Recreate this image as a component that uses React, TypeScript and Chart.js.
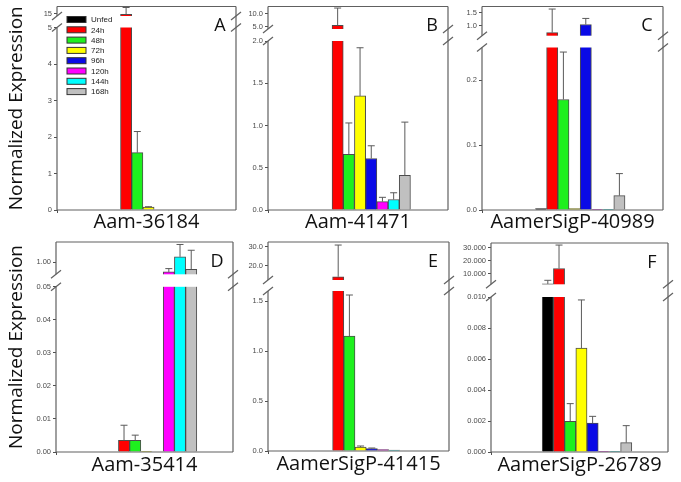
import React, { useEffect, useRef } from 'react';
import { Chart, LinearScale, registerables } from 'chart.js';

Chart.register(...registerables);

// ---------- data ----------
const SERIES = ['Unfed', '24h', '48h', '72h', '96h', '120h', '144h', '168h'];
const SERIES_COLORS = ['#000000', '#ff0000', '#1ef01e', '#ffff00', '#0a0ae6', '#ff00ff', '#00ffff', '#c0c0c0'];
const Y_TITLE = 'Normalized Expression';

const GENE_A = 'Aam-36184';
const VALUES_A = [0, 14.7, 1.57, 0.08, 0, 0, 0, 0];
const ERRORS_A = [0, 3.2, 0.58, 0.01, 0, 0, 0, 0];
const TICKS_A = [0, 1, 2, 3, 4, 5, 15];

const GENE_B = 'Aam-41471';
const VALUES_B = [0, 5.5, 0.66, 1.35, 0.61, 0.1, 0.124, 0.41];
const ERRORS_B = [0, 6.8, 0.37, 0.57, 0.15, 0.05, 0.08, 0.63];
const TICKS_B = [0, 0.5, 1.0, 1.5, 2.0, 5.0, 10.0];

const GENE_C = 'AamerSigP-40989';
const VALUES_C = [0.002, 0.72, 0.17, 0.002, 1.04, 0.001, 0.001, 0.022];
const ERRORS_C = [0, 0.93, 0.073, 0, 0.24, 0, 0, 0.034];
const TICKS_C = [0, 0.1, 0.2, 1.0, 1.5];

const GENE_D = 'Aam-35414';
const VALUES_D = [0, 0.0035, 0.0035, 0.0002, 0, 0.8, 1.118, 0.856];
const ERRORS_D = [0, 0.0046, 0.0016, 0, 0, 0.07, 0.26, 0.4];
const TICKS_D = [0, 0.01, 0.02, 0.03, 0.04, 0.05, 1.0];

const GENE_E = 'AamerSigP-41415';
const VALUES_E = [0, 14.2, 1.15, 0.04, 0.025, 0.015, 0.01, 0.005];
const ERRORS_E = [0, 16.7, 0.41, 0.01, 0.005, 0, 0, 0];
const TICKS_E = [0, 0.5, 1.0, 1.5, 20.0, 30.0];

const GENE_F = 'AamerSigP-26789';
const VALUES_F = [1.9, 13.9, 0.00198, 0.00671, 0.00187, 0.00002, 0.00005, 0.0006];
const ERRORS_F = [2.8, 18.2, 0.00114, 0.0031, 0.00043, 0, 0, 0.0011];
const TICKS_F = [0, 0.002, 0.004, 0.006, 0.008, 0.01, 10, 20, 30];

// ---------- layout ----------
const PAD_R = 6;
const X_H = 28;
const GROUP_POS = 0.585;
const BAR_W = 11.2;
const FRAME_COLOR = '#606060';
const TICK_COLOR = '#505050';

type Seg = { lMax: number; uMin: number; uMax: number; lowerPx: number; gapPx: number; dec: number; ticks: number[] };

type PanelCfg = {
  key: string;
  letter: string;
  gene: string;
  values: number[];
  errors: number[];
  seg: Seg;
  l: number; t: number; r: number; b: number;
  axW: number; padT: number; titleGap: number;
  yTitle: boolean; legend: boolean;
};

function makeBrokenScale(id: string, seg: Seg) {
  class BrokenScale extends LinearScale {
    static id = id;
    buildTicks() {
      return seg.ticks.map((v) => ({ value: v }));
    }
    getPixelForValue(value: number) {
      const b = this.bottom;
      const t = this.top;
      const lowTop = b - seg.lowerPx;
      const upBot = lowTop - seg.gapPx;
      if (value === null || value === undefined || isNaN(value)) return NaN;
      if (value <= seg.lMax) return b - (value / seg.lMax) * seg.lowerPx;
      if (value < seg.uMin) return lowTop;
      return upBot - ((value - seg.uMin) / (seg.uMax - seg.uMin)) * (upBot - t);
    }
    getValueForPixel(pixel: number) {
      const b = this.bottom;
      const t = this.top;
      const lowTop = b - seg.lowerPx;
      const upBot = lowTop - seg.gapPx;
      if (pixel >= lowTop) return ((b - pixel) / seg.lowerPx) * seg.lMax;
      if (pixel > upBot) return seg.lMax;
      return seg.uMin + ((upBot - pixel) / (upBot - t)) * (seg.uMax - seg.uMin);
    }
  }
  return BrokenScale;
}

const PANELS: PanelCfg[] = [
  {
    key: 'A', letter: 'A', gene: GENE_A, values: VALUES_A, errors: ERRORS_A,
    seg: { lMax: 5, uMin: 14, uMax: 18, lowerPx: 182.5, gapPx: 11.5, dec: 0, ticks: TICKS_A },
    l: 57, t: 2, r: 236, b: 210, axW: 56, padT: 2, titleGap: 12.2, yTitle: true, legend: true,
  },
  {
    key: 'B', letter: 'B', gene: GENE_B, values: VALUES_B, errors: ERRORS_B,
    seg: { lMax: 2, uMin: 4.1, uMax: 12.9, lowerPx: 169, gapPx: 12, dec: 1, ticks: TICKS_B },
    l: 268, t: 2, r: 448, b: 210, axW: 40, padT: 2, titleGap: 12.2, yTitle: false, legend: false,
  },
  {
    key: 'C', letter: 'C', gene: GENE_C, values: VALUES_C, errors: ERRORS_C,
    seg: { lMax: 0.25, uMin: 0.6, uMax: 1.75, lowerPx: 162.5, gapPx: 11.8, dec: 1, ticks: TICKS_C },
    l: 482, t: 2, r: 663, b: 210, axW: 40, padT: 2, titleGap: 12.2, yTitle: false, legend: false,
  },
  {
    key: 'D', letter: 'D', gene: GENE_D, values: VALUES_D, errors: ERRORS_D,
    seg: { lMax: 0.05, uMin: 0.75, uMax: 1.43, lowerPx: 165.2, gapPx: 12.5, dec: 2, ticks: TICKS_D },
    l: 56, t: 242, r: 233, b: 452, axW: 55, padT: 8, titleGap: 13.6, yTitle: true, legend: false,
  },
  {
    key: 'E', letter: 'E', gene: GENE_E, values: VALUES_E, errors: ERRORS_E,
    seg: { lMax: 1.6, uMin: 12.5, uMax: 32.5, lowerPx: 160, gapPx: 11, dec: 1, ticks: TICKS_E },
    l: 268, t: 242, r: 449, b: 451, axW: 40, padT: 8, titleGap: 13.6, yTitle: false, legend: false,
  },
  {
    key: 'F', letter: 'F', gene: GENE_F, values: VALUES_F, errors: ERRORS_F,
    seg: { lMax: 0.01, uMin: 1.6, uMax: 33.7, lowerPx: 155, gapPx: 12.7, dec: 3, ticks: TICKS_F },
    l: 491, t: 243, r: 668, b: 452, axW: 40, padT: 8, titleGap: 13.6, yTitle: false, legend: false,
  },
];

const SCALE_IDS: Record<string, string> = {};
PANELS.forEach((p) => {
  const id = 'broken' + p.key;
  SCALE_IDS[p.key] = id;
  Chart.register(makeBrokenScale(id, p.seg) as any);
});

function line(ctx: CanvasRenderingContext2D, x1: number, y1: number, x2: number, y2: number) {
  ctx.beginPath();
  ctx.moveTo(x1, y1);
  ctx.lineTo(x2, y2);
  ctx.stroke();
}

function makePlugin(p: PanelCfg) {
  return {
    id: 'panel' + p.key,
    afterDatasetsDraw(chart: any) {
      const ctx: CanvasRenderingContext2D = chart.ctx;
      const ca = chart.chartArea;
      const ys = chart.scales.y;
      const lowTop = ys.getPixelForValue(p.seg.lMax);
      const upBot = ys.getPixelForValue(p.seg.uMin);
      ctx.save();
      // axis break gap
      ctx.fillStyle = '#ffffff';
      ctx.fillRect(ca.left + 0.5, upBot, ca.right - ca.left - 1, lowTop - upBot);
      // error bars
      ctx.strokeStyle = '#5a5a5a';
      ctx.lineWidth = 1;
      p.values.forEach((v, i) => {
        const e = p.errors[i];
        if (!e) return;
        const el = chart.getDatasetMeta(i).data[0];
        if (!el) return;
        const y0 = ys.getPixelForValue(v);
        const y1 = Math.max(ys.getPixelForValue(v + e), ca.top + 1);
        line(ctx, el.x, y0, el.x, y1);
        line(ctx, el.x - 3.5, y1, el.x + 3.5, y1);
      });
      ctx.restore();
    },
    afterDraw(chart: any) {
      const ctx: CanvasRenderingContext2D = chart.ctx;
      const ca = chart.chartArea;
      const ys = chart.scales.y;
      const lowTop = ys.getPixelForValue(p.seg.lMax);
      const upBot = ys.getPixelForValue(p.seg.uMin);
      ctx.save();
      ctx.strokeStyle = FRAME_COLOR;
      ctx.lineWidth = 1.2;
      line(ctx, ca.left, ca.top, ca.right, ca.top);
      line(ctx, ca.right, ca.top, ca.right, ca.bottom);
      line(ctx, ca.left, ca.bottom, ca.right, ca.bottom);
      line(ctx, ca.left, ca.top, ca.left, upBot);
      line(ctx, ca.left, lowTop, ca.left, ca.bottom);
      [ca.left, ca.right].forEach((x) => {
        [upBot, lowTop].forEach((y) => line(ctx, x - 5, y + 4, x + 5, y - 4));
      });
      // panel letter
      ctx.fillStyle = '#111111';
      ctx.font = '18px "Open Sans"';
      ctx.textAlign = 'center';
      ctx.textBaseline = 'middle';
      ctx.fillText(p.letter, ca.right - 16, ca.top + 19.5);
      // legend
      if (p.legend) {
        ctx.font = '8px "Liberation Sans"';
        ctx.textAlign = 'left';
        SERIES.forEach((name, i) => {
          const cy = ca.top + 13 + i * 10.3;
          ctx.fillStyle = SERIES_COLORS[i];
          ctx.fillRect(ca.left + 10, cy - 3, 19, 6);
          ctx.strokeStyle = '#333333';
          ctx.lineWidth = 1;
          ctx.strokeRect(ca.left + 10, cy - 3, 19, 6);
          ctx.fillStyle = '#222222';
          ctx.fillText(name, ca.left + 34, cy + 0.5);
        });
      }
      ctx.restore();
    },
  };
}

function Panel({ p }: { p: PanelCfg }) {
  const ref = useRef<HTMLCanvasElement>(null);
  const w = p.axW + (p.r - p.l) + PAD_R;
  const h = p.padT + (p.b - p.t) + X_H;

  useEffect(() => {
    const canvas = ref.current;
    if (!canvas) return;
    const datasets = SERIES.map((name, i) => ({
      label: name,
      data: [{ x: GROUP_POS, y: p.values[i] }],
      backgroundColor: SERIES_COLORS[i],
      borderColor: 'rgba(45,45,45,0.85)',
      borderWidth: 1,
      barThickness: BAR_W,
    }));
    const chart = new Chart(canvas, {
      type: 'bar',
      data: { datasets },
      options: {
        animation: false,
        responsive: false,
        events: [],
        layout: { padding: { top: p.padT, right: PAD_R, left: 0, bottom: 0 } },
        plugins: { legend: { display: false }, tooltip: { enabled: false } },
        scales: {
          x: {
            type: 'linear',
            min: 0,
            max: 1,
            afterBuildTicks: (s: any) => { s.ticks = [{ value: GROUP_POS }]; },
            afterFit: (s: any) => { s.height = X_H; },
            border: { display: false },
            grid: { drawOnChartArea: false, drawTicks: true, tickLength: 3, color: TICK_COLOR },
            ticks: { display: false },
            title: {
              display: true,
              text: p.gene,
              color: '#111111',
              font: { family: 'Open Sans', size: 20 },
              padding: { top: 0, bottom: X_H - 12 - p.titleGap },
            },
          },
          y: {
            type: SCALE_IDS[p.key] as any,
            min: 0,
            max: p.seg.uMax,
            afterFit: (s: any) => { s.width = p.axW; },
            border: { display: false },
            grid: { drawOnChartArea: false, drawTicks: true, tickLength: 3, color: TICK_COLOR },
            ticks: {
              autoSkip: false,
              padding: 2,
              color: '#4a4a4a',
              font: { family: 'Liberation Sans', size: 7.5 },
              callback: (v: any) => Number(v).toFixed(p.seg.dec),
            },
            title: {
              display: p.yTitle,
              text: Y_TITLE,
              color: '#111111',
              font: { family: 'Open Sans', size: 19 },
              padding: { top: 4, bottom: 0 },
            },
          },
        },
      } as any,
      plugins: [makePlugin(p)],
    });
    return () => chart.destroy();
  }, [p]);

  return (
    <canvas
      ref={ref}
      width={w}
      height={h}
      style={{ position: 'absolute', left: p.l - p.axW, top: p.t - p.padT, width: w, height: h }}
    />
  );
}

export default function App() {
  return (
    <div style={{ position: 'absolute', left: 0, top: 0, width: 681, height: 482, background: '#ffffff', overflow: 'hidden' }}>
      {PANELS.map((p) => (
        <Panel key={p.key} p={p} />
      ))}
    </div>
  );
}
